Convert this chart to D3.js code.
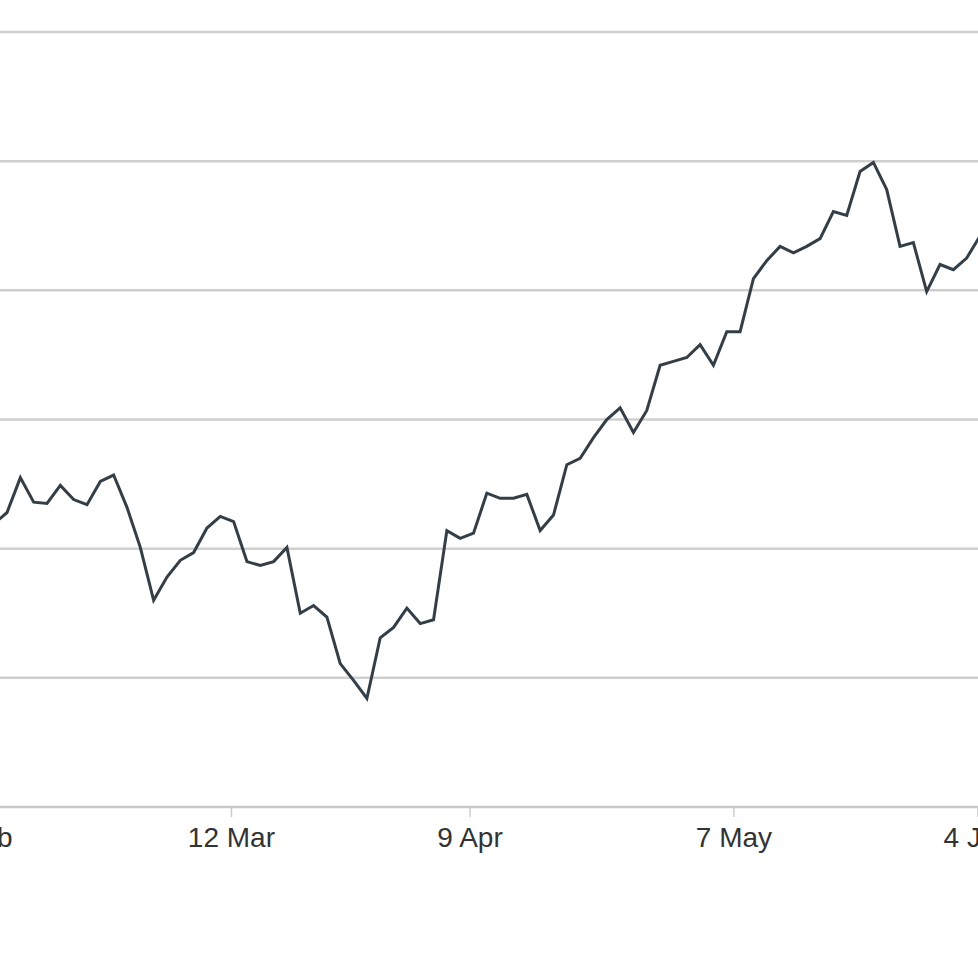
<!DOCTYPE html>
<html>
<head>
<meta charset="utf-8">
<script src="https://cdn.jsdelivr.net/npm/d3@7"></script>
<style>
  html, body { margin: 0; padding: 0; background: #ffffff; }
  svg { display: block; }
</style>
</head>
<body>
<svg id="chart" width="978" height="978"></svg>
<script>
// ---- data (one point per trading session) ----
const values = [
  121.9, 122.8, 125.5, 123.6, 123.5, 124.9, 123.8, 123.4, 125.2, 125.7,
  123.2, 120.1, 116.0, 117.8, 119.1, 119.7, 121.6, 122.5, 122.1, 119.0,
  118.7, 119.0, 120.1, 115.0, 115.6, 114.7, 111.1, 109.8, 108.4, 113.1,
  113.9, 115.4, 114.2, 114.5, 121.4, 120.8, 121.2, 124.3, 123.9, 123.9,
  124.2, 121.4, 122.6, 126.5, 127.0, 128.6, 130.0, 130.9, 129.0, 130.7,
  134.2, 134.5, 134.8, 135.8, 134.2, 136.8, 136.8, 140.9, 142.3, 143.4,
  142.9, 143.4, 144.0, 146.1, 145.8, 149.2, 149.9, 147.8, 143.4, 143.7,
  139.9, 142.0, 141.6, 142.5, 144.2
];
const tickLabels = ["12 Feb", "12 Mar", "9 Apr", "7 May", "4 Jun"];
const tickIndex  = [-1.9, 17.8, 35.7, 55.5, 73.8];
const yTicks     = [100, 110, 120, 130, 140, 150, 160];

// ---- layout ----
const svg = d3.select("#chart");
const W = 978, H = 978;
const x = d3.scaleLinear().domain([0, values.length - 1]).range([-6.3, 980]);
const y = d3.scaleLinear().domain([100, 160]).range([807, 32]);

// gridlines
svg.append("g")
  .selectAll("line")
  .data(yTicks.slice(1))
  .join("line")
  .attr("x1", 0).attr("x2", W)
  .attr("y1", d => y(d)).attr("y2", d => y(d))
  .attr("stroke", "#cfcfcf")
  .attr("stroke-width", 2.5);

// x axis
const xAxis = d3.axisBottom(x)
  .tickValues(tickIndex)
  .tickFormat((d, i) => tickLabels[i])
  .tickSize(10)
  .tickPadding(10);

const gx = svg.append("g")
  .attr("transform", `translate(0,${y(100)})`)
  .call(xAxis);
gx.select(".domain").remove();
gx.insert("line", ":first-child")
  .attr("x1", 0).attr("x2", W)
  .attr("stroke", "#c8c8c8")
  .attr("stroke-width", 2.5);
gx.selectAll(".tick line")
  .attr("stroke", "#cccccc")
  .attr("stroke-width", 1.5);
gx.selectAll(".tick text")
  .attr("fill", "#333333")
  .style("font-family", "'Liberation Sans', Arial, sans-serif")
  .style("font-size", "28px");

// line
const line = d3.line()
  .x((d, i) => x(i))
  .y(d => y(d));

svg.append("path")
  .datum(values)
  .attr("fill", "none")
  .attr("stroke", "#343e47")
  .attr("stroke-width", 3)
  .attr("stroke-linejoin", "miter")
  .attr("d", line);
</script>
</body>
</html>
